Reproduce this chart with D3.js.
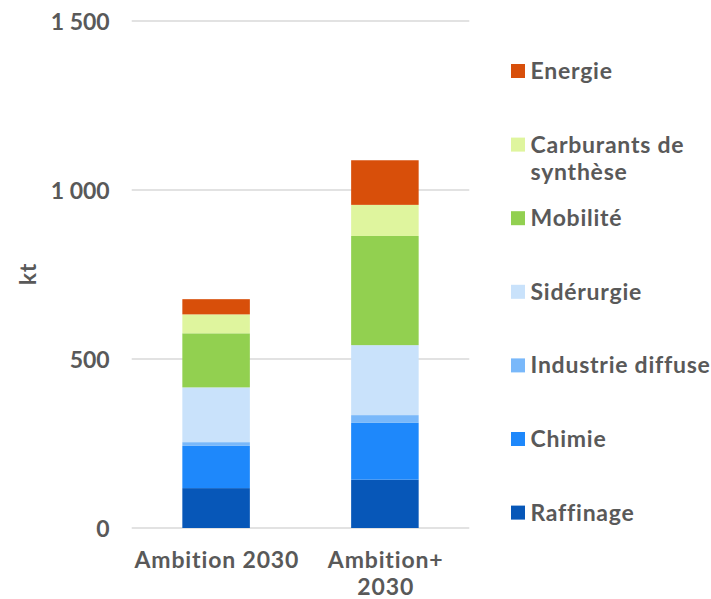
<!DOCTYPE html>
<html>
<head>
<meta charset="utf-8">
<script src="https://cdn.jsdelivr.net/npm/d3@7"></script>
<style>
  html, body { margin: 0; padding: 0; background: #ffffff; }
  svg { display: block; }
  text { font-family: "Lato", "DejaVu Sans", sans-serif; font-weight: 700; fill: #595959;
         font-variant-ligatures: none; font-feature-settings: "liga" 0, "clig" 0; }
</style>
</head>
<body>
<svg id="chart" width="711" height="599"></svg>
<script>
// ---- Data ----
const categories = ["Ambition 2030", "Ambition+ 2030"];
const categoryLabelLines = [["Ambition 2030"], ["Ambition+", "2030"]];
const seriesNames = ["Raffinage", "Chimie", "Industrie diffuse", "Sidérurgie", "Mobilité", "Carburants de synthèse", "Energie"];
const raffinage        = [118, 143];
const chimie           = [125, 168];
const industrieDiffuse = [11, 23];
const siderurgie       = [162, 207];
const mobilite         = [160, 323];
const carburants       = [56, 92];
const energie          = [45, 132];
const yTicks = [0, 500, 1000, 1500];
const yAxisTitle = "kt";
const legendOrder = ["Energie", "Carburants de synthèse", "Mobilité", "Sidérurgie", "Industrie diffuse", "Chimie", "Raffinage"];
const legendLabelLines = {
  "Energie": ["Energie"],
  "Carburants de synthèse": ["Carburants de", "synthèse"],
  "Mobilité": ["Mobilité"],
  "Sidérurgie": ["Sidérurgie"],
  "Industrie diffuse": ["Industrie diffuse"],
  "Chimie": ["Chimie"],
  "Raffinage": ["Raffinage"]
};
const colors = {
  "Raffinage": "#0757b8",
  "Chimie": "#1e88fb",
  "Industrie diffuse": "#79b8fa",
  "Sidérurgie": "#c9e2fb",
  "Mobilité": "#92d050",
  "Carburants de synthèse": "#dff59e",
  "Energie": "#d84f0a"
};

// ---- Build table ----
const seriesValues = [raffinage, chimie, industrieDiffuse, siderurgie, mobilite, carburants, energie];
const table = categories.map((c, i) => {
  const row = { category: c };
  seriesNames.forEach((s, j) => { row[s] = seriesValues[j][i]; });
  return row;
});
const stacked = d3.stack().keys(seriesNames)(table);

// ---- Layout ----
const svg = d3.select("#chart");
const plotLeft = 131.7, plotRight = 469.3, plotTop = 21, plotBottom = 528;

const x = d3.scaleBand().domain(categories).range([plotLeft, plotRight])
  .paddingInner(0.6).paddingOuter(0.3);
const y = d3.scaleLinear().domain([0, 1500]).range([plotBottom, plotTop]);

const locale = d3.formatLocale({ decimal: ",", thousands: "\u00a0", grouping: [3], currency: ["", " €"] });
const fmt = locale.format(",d");

// gridlines
svg.append("g").selectAll("line").data(yTicks).join("line")
  .attr("x1", plotLeft).attr("x2", plotRight)
  .attr("y1", d => y(d)).attr("y2", d => y(d))
  .attr("stroke", "#d9d9d9").attr("stroke-width", 1.5);

// y axis labels
const yAxis = d3.axisLeft(y).tickValues(yTicks).tickFormat(fmt).tickSize(0).tickPadding(0);
const yg = svg.append("g").attr("transform", `translate(${plotLeft - 22},0)`).call(yAxis);
yg.select(".domain").remove();
yg.selectAll("text").attr("font-size", 23).attr("font-family", null).attr("fill", "#595959")
  .attr("dy", "0.36em");

// y title
svg.append("text")
  .attr("transform", `translate(36,274) rotate(-90)`)
  .attr("text-anchor", "middle")
  .attr("font-size", 23)
  .attr("letter-spacing", 0.8)
  .text(yAxisTitle);

// bars
svg.append("g").selectAll("g").data(stacked).join("g")
  .attr("fill", d => colors[d.key])
  .selectAll("rect").data(d => d).join("rect")
  .attr("x", d => x(d.data.category))
  .attr("width", x.bandwidth())
  .attr("y", d => y(d[1]))
  .attr("height", d => y(d[0]) - y(d[1]));

// x labels
const xg = svg.append("g");
categories.forEach((c, i) => {
  const cx = x(c) + x.bandwidth() / 2 + 0.8;
  const t = xg.append("text")
    .attr("x", cx)
    .attr("y", 568)
    .attr("text-anchor", "middle")
    .attr("letter-spacing", 0.85)
    .attr("font-size", 23);
  categoryLabelLines[i].forEach((line, k) => {
    t.append("tspan").attr("x", cx).attr("dy", k === 0 ? 0 : 27).text(line);
  });
});

// legend
const legendTop = 64, legendStep = 73.6;
const lg = svg.append("g");
legendOrder.forEach((name, i) => {
  const yy = legendTop + i * legendStep;
  lg.append("rect").attr("x", 511).attr("y", yy).attr("width", 14).attr("height", 14)
    .attr("fill", colors[name]);
  const t = lg.append("text").attr("x", 530.5).attr("y", yy + 15).attr("font-size", 23)
    .attr("letter-spacing", 0.75);
  legendLabelLines[name].forEach((line, k) => {
    t.append("tspan").attr("x", 530.5).attr("dy", k === 0 ? 0 : 27).text(line);
  });
});
</script>
</body>
</html>
